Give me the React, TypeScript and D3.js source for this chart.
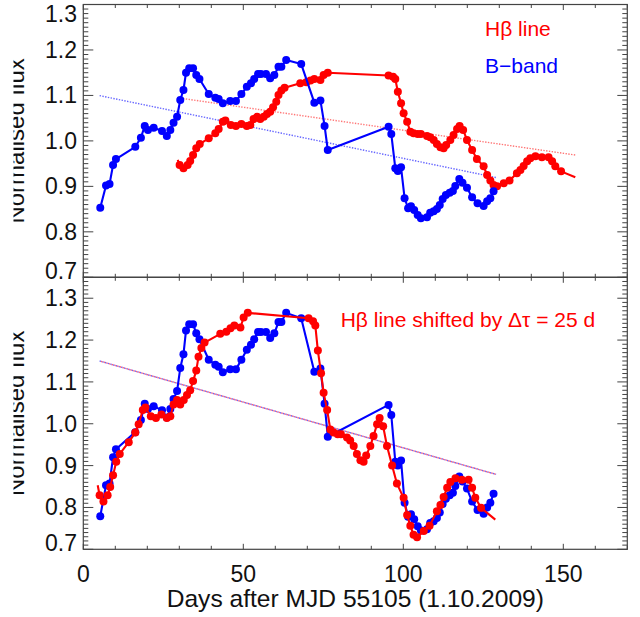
import React from "react";
import * as d3 from "d3";

// ---- data ----
const blueDays = [5.3, 7.1, 8.2, 9.3, 10.2, 16.25, 18.0, 19.2, 20.2, 22.0, 24.6, 26.1, 27.2, 28.2, 29.3, 30.3, 31.3, 32.1, 33.1, 34.3, 35.3, 36.3, 39.2, 41.25, 42.3, 43.6, 45.9, 47.7, 49.4, 51.1, 52.4, 53.4, 54.6, 55.5, 57.1, 58.4, 59.7, 61.0, 61.9, 63.4, 68.1, 72.2, 74.1, 75.4, 76.4, 95.4, 96.25, 97.5, 98.3, 99.3, 100.4, 101.5, 102.4, 103.4, 104.5, 105.5, 107.4, 108.4, 109.5, 110.5, 111.4, 112.3, 113.3, 114.5, 115.5, 116.25, 117.5, 118.5, 119.9, 121.5, 123.2, 125.1, 126.2, 127.2, 128.2];
const blueTop = [0.853, 0.902, 0.905, 0.947, 0.960, 0.987, 1.007, 1.033, 1.024, 1.029, 1.022, 1.011, 1.024, 1.040, 1.053, 1.090, 1.112, 1.150, 1.160, 1.160, 1.145, 1.136, 1.103, 1.095, 1.092, 1.083, 1.088, 1.088, 1.103, 1.119, 1.127, 1.136, 1.147, 1.147, 1.147, 1.138, 1.145, 1.163, 1.163, 1.178, 1.169, 1.084, 1.089, 1.033, 0.980, 1.031, 1.015, 0.940, 0.934, 0.942, 0.874, 0.852, 0.856, 0.848, 0.837, 0.830, 0.832, 0.842, 0.845, 0.850, 0.859, 0.872, 0.881, 0.886, 0.890, 0.901, 0.916, 0.908, 0.897, 0.876, 0.863, 0.857, 0.867, 0.874, 0.889];
const blueBottom = [0.779, 0.853, 0.857, 0.920, 0.939, 0.980, 1.009, 1.048, 1.035, 1.042, 1.032, 1.015, 1.035, 1.059, 1.078, 1.133, 1.166, 1.223, 1.238, 1.238, 1.216, 1.202, 1.153, 1.141, 1.136, 1.123, 1.130, 1.130, 1.153, 1.177, 1.189, 1.202, 1.219, 1.219, 1.219, 1.205, 1.216, 1.243, 1.243, 1.265, 1.252, 1.124, 1.132, 1.048, 0.969, 1.045, 1.021, 0.909, 0.900, 0.912, 0.811, 0.778, 0.784, 0.772, 0.755, 0.745, 0.748, 0.763, 0.767, 0.775, 0.788, 0.808, 0.821, 0.829, 0.835, 0.851, 0.874, 0.862, 0.845, 0.814, 0.794, 0.785, 0.800, 0.811, 0.833];

const redDaysTop = [29.5, 30.1, 31.3, 32.6, 33.4, 34.3, 35.3, 36.4, 39.2, 41.25, 42.3, 43.6, 44.4, 46.1, 47.7, 49.4, 51.1, 52.2, 53.2, 54.3, 55.3, 56.4, 57.4, 58.4, 59.3, 60.3, 61.0, 61.9, 62.9, 67.8, 69.7, 71.0, 72.2, 74.1, 75.1, 76.4, 95.4, 96.8, 97.5, 98.3, 99.3, 100.1, 101.2, 102.2, 103.2, 104.5, 105.5, 107.4, 108.4, 109.5, 110.5, 111.6, 112.6, 113.4, 114.7, 115.7, 116.8, 117.6, 118.7, 119.9, 121.5, 123.0, 125.1, 126.2, 127.2, 128.2, 129.3, 131.4, 133.2, 135.5, 136.6, 137.6, 138.7, 139.7, 141.3, 143.3, 145.4, 146.5, 147.5, 149.3, 153.75];
const redTop = [0.958, 0.947, 0.940, 0.947, 0.956, 0.969, 0.984, 0.993, 1.006, 1.017, 1.026, 1.042, 1.045, 1.035, 1.033, 1.037, 1.033, 1.035, 1.048, 1.053, 1.048, 1.053, 1.059, 1.064, 1.074, 1.086, 1.101, 1.111, 1.117, 1.127, 1.129, 1.133, 1.136, 1.134, 1.145, 1.150, 1.144, 1.141, 1.136, 1.108, 1.083, 1.061, 1.042, 1.020, 1.017, 1.015, 1.015, 1.011, 1.008, 1.002, 0.993, 0.986, 0.984, 0.991, 1.002, 1.013, 1.026, 1.033, 1.024, 1.002, 0.980, 0.960, 0.944, 0.925, 0.913, 0.903, 0.900, 0.907, 0.913, 0.929, 0.936, 0.945, 0.955, 0.962, 0.966, 0.964, 0.964, 0.955, 0.944, 0.933, 0.920];
const redDaysShifted = [4.5, 5.1, 6.3, 7.6, 8.4, 9.3, 10.3, 11.4, 14.2, 16.25, 17.3, 18.6, 19.4, 21.1, 22.7, 24.4, 26.1, 27.2, 28.2, 29.3, 30.3, 31.4, 32.4, 33.4, 34.3, 35.3, 36.0, 36.9, 37.9, 42.8, 44.7, 46.0, 47.2, 49.1, 50.1, 51.4, 70.4, 71.8, 72.5, 73.3, 74.3, 75.1, 76.2, 77.2, 78.2, 79.5, 80.5, 82.4, 83.4, 84.5, 85.5, 86.6, 87.6, 88.4, 89.7, 90.7, 91.8, 92.6, 93.7, 94.9, 96.5, 98.0, 100.1, 101.2, 102.2, 103.2, 104.3, 106.4, 108.2, 110.5, 111.6, 112.6, 113.7, 114.7, 116.3, 118.3, 120.4, 121.5, 122.5, 124.3, 128.75];
const redBottom = [0.853, 0.829, 0.814, 0.829, 0.849, 0.877, 0.909, 0.928, 0.956, 0.979, 0.999, 1.033, 1.039, 1.018, 1.014, 1.022, 1.014, 1.018, 1.046, 1.057, 1.046, 1.057, 1.069, 1.080, 1.102, 1.127, 1.160, 1.181, 1.194, 1.215, 1.220, 1.228, 1.235, 1.230, 1.254, 1.265, 1.252, 1.245, 1.235, 1.175, 1.121, 1.074, 1.033, 0.986, 0.979, 0.975, 0.975, 0.967, 0.960, 0.947, 0.928, 0.913, 0.909, 0.924, 0.947, 0.971, 0.999, 1.014, 0.994, 0.947, 0.900, 0.857, 0.823, 0.782, 0.756, 0.735, 0.729, 0.744, 0.756, 0.791, 0.806, 0.825, 0.847, 0.861, 0.870, 0.866, 0.866, 0.847, 0.823, 0.799, 0.771];

const trendTopRedDays = [30.3, 153.75];
const trendTopRedVals = [1.094, 0.969];
const trendTopBlueDays = [5.1, 129.3];
const trendTopBlueVals = [1.0996, 0.919];
const trendBottomDays = [5.1, 129.0];
const trendBottomVals = [1.15, 0.879];

const xTickLabels = [0, 50, 100, 150];
const yTickLabels = [0.7, 0.8, 0.9, 1.0, 1.1, 1.2, 1.3];

const FONT = "'Liberation Sans', Arial, Helvetica, sans-serif";
const AXIS = "#444";
const RED = "#ff0000";
const BLUE = "#0000ff";

const X0 = 83.3, X1 = 627.3;
const x = d3.scaleLinear().domain([0, 170]).range([X0, X1]);

function Axes({ y, top, bot }: { y: d3.ScaleLinear<number, number>; top: number; bot: number }) {
  const [d0, d1] = y.domain();
  const minorY: number[] = [];
  for (let i = Math.ceil(d0 * 100 - 1e-6); i <= Math.floor(d1 * 100 + 1e-6); i++) minorY.push(i / 100);
  const xt = d3.range(0, 171, 10);
  const els: React.ReactNode[] = [];
  minorY.forEach((v, i) => {
    const major = Math.abs(v * 10 - Math.round(v * 10)) < 1e-6;
    const len = major ? 10 : 5;
    const yy = y(v);
    els.push(<line key={"l" + i} x1={X0} x2={X0 + len} y1={yy} y2={yy} stroke={AXIS} strokeWidth={1} />);
    els.push(<line key={"r" + i} x1={X1} x2={X1 - len} y1={yy} y2={yy} stroke={AXIS} strokeWidth={1} />);
  });
  xt.forEach((d, i) => {
    const major = d % 50 === 0;
    const len = major ? 5.5 : 3.5;
    const xx = x(d);
    els.push(<line key={"b" + i} x1={xx} x2={xx} y1={bot} y2={bot - len} stroke={AXIS} strokeWidth={1} />);
    els.push(<line key={"t" + i} x1={xx} x2={xx} y1={top} y2={top + len} stroke={AXIS} strokeWidth={1} />);
  });
  return (
    <g>
      <rect x={X0} y={top} width={X1 - X0} height={bot - top} fill="none" stroke={AXIS} strokeWidth={1.2} />
      {els}
      {yTickLabels.map((v) => {
        const c = Math.min(Math.max(y(v), top + 9.2), bot - 6);
        return (
          <text key={v} x={77} y={c + 8} textAnchor="end" fontFamily={FONT} fontSize={23} fill="#111">
            {d3.format(".1f")(v)}
          </text>
        );
      })}
    </g>
  );
}

function Series({ days, vals, y, color, skipEnds }: { days: number[]; vals: number[]; y: d3.ScaleLinear<number, number>; color: string; skipEnds?: boolean }) {
  const pts = days.map((d, i) => [x(d), y(vals[i])] as [number, number]);
  const line = d3.line()(pts) || "";
  const dots = skipEnds ? pts.slice(1, pts.length - 1) : pts;
  return (
    <g>
      <path d={line} fill="none" stroke={color} strokeWidth={2.1} strokeLinejoin="round" />
      {dots.map((p, i) => (
        <circle key={i} cx={p[0]} cy={p[1]} r={4} fill={color} />
      ))}
    </g>
  );
}

function Trend({ days, vals, y, color, offset }: { days: number[]; vals: number[]; y: d3.ScaleLinear<number, number>; color: string; offset?: number }) {
  const pts = days.map((d, i) => [x(d), y(vals[i])] as [number, number]);
  return (
    <path d={d3.line()(pts) || ""} fill="none" stroke={color} strokeWidth={1.4} strokeDasharray="1.4 1.4" strokeDashoffset={offset || 0} />
  );
}

export default function App() {
  const topY0 = 4.5, topY1 = 277.3;
  const botY0 = 277.3, botY1 = 549.3;
  const yTop = d3.scaleLinear().domain([0.7, 1.3]).range([topY1, topY0]);
  const yBot = d3.scaleLinear().domain([0.7, 1.35]).range([botY1, botY0]);

  return (
    <svg width={640} height={617} style={{ position: "absolute", left: 0, top: 0, background: "#fff" }}>
      <defs>
        <clipPath id="ytitleclip">
          <rect x={13.5} y={0} width={60} height={617} />
        </clipPath>
      </defs>
      <rect x={0} y={0} width={640} height={617} fill="#fff" />

      {/* top panel */}
      <Trend days={trendTopRedDays} vals={trendTopRedVals} y={yTop} color="#ff7777" />
      <Trend days={trendTopBlueDays} vals={trendTopBlueVals} y={yTop} color="#6666ff" />
      <Series days={redDaysTop} vals={redTop} y={yTop} color={RED} skipEnds />
      <Series days={blueDays} vals={blueTop} y={yTop} color={BLUE} />
      <Axes y={yTop} top={topY0} bot={topY1} />
      <text x={485} y={36} fontFamily={FONT} fontSize={21} fill={RED}>Hβ line</text>
      <text x={485} y={72.7} fontFamily={FONT} fontSize={21} fill={BLUE}>B−band</text>

      {/* bottom panel */}
      <Trend days={trendBottomDays} vals={trendBottomVals} y={yBot} color="#6666ff" />
      <Trend days={trendBottomDays} vals={trendBottomVals} y={yBot} color="#ff6677" offset={1.4} />
      <Series days={blueDays} vals={blueBottom} y={yBot} color={BLUE} />
      <Series days={redDaysShifted} vals={redBottom} y={yBot} color={RED} skipEnds />
      <Axes y={yBot} top={botY0} bot={botY1} />
      <text x={340.7} y={326.7} fontFamily={FONT} fontSize={21} fill={RED}>Hβ line shifted by Δτ = 25 d</text>

      {/* x axis labels */}
      {xTickLabels.map((d) => (
        <text key={d} x={x(d)} y={581.7} textAnchor="middle" fontFamily={FONT} fontSize={23} fill="#111">{d}</text>
      ))}
      <text x={(X0 + X1) / 2} y={607} textAnchor="middle" fontFamily={FONT} fontSize={24.6} fill="#111">
        Days after MJD 55105 (1.10.2009)
      </text>

      {/* y titles (clipped at left as in the reference) */}
      <g clipPath="url(#ytitleclip)">
        <text transform={`translate(24,${(topY0 + topY1) / 2}) rotate(-90)`} textAnchor="middle" fontFamily={FONT} fontSize={24} fill="#111">
          Normalised flux
        </text>
        <text transform={`translate(24,${(botY0 + botY1) / 2}) rotate(-90)`} textAnchor="middle" fontFamily={FONT} fontSize={24} fill="#111">
          Normalised flux
        </text>
      </g>
    </svg>
  );
}
